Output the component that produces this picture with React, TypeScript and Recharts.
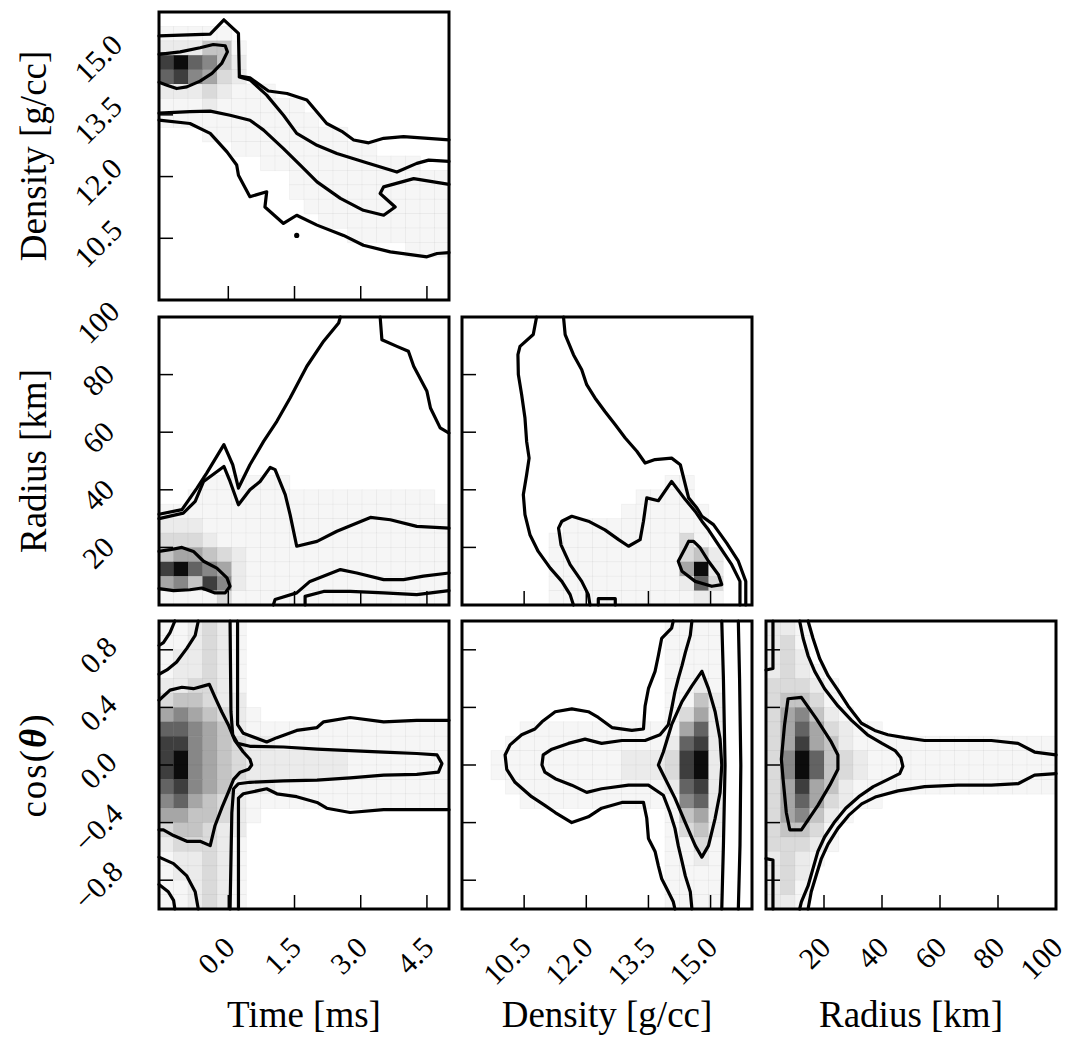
import React from 'react'
import { ScatterChart, Scatter, XAxis, YAxis } from 'recharts'

type Pt = [number, number]

const FONT = '"Liberation Serif", "Times New Roman", serif'

// plot boxes of the 3x3 corner layout (lower triangle only)
const PLOT_W = 290
const PLOT_H = 288
const COL_X = [159, 462, 766]
const ROW_Y = [12, 317, 621]
const AXIS_SIZE = 1
const MARGIN = { top: 40, right: 30, bottom: 120 - AXIS_SIZE, left: 165 - AXIS_SIZE }
const TICK_LEN = 14
const TICK_FONT = 30
const BINS = 20

const TIME_DOMAIN: Pt = [-1.57, 5.0]
const DENSITY_DOMAIN: Pt = [9, 16]
const RADIUS_DOMAIN: Pt = [0, 100]
const COS_DOMAIN: Pt = [-1, 1]

const TIME_TICKS = [0, 1.5, 3, 4.5]
const DENSITY_TICKS = [10.5, 12, 13.5, 15]
const RADIUS_TICKS = [20, 40, 60, 80, 100]
const COS_TICKS = [-0.8, -0.4, 0, 0.4, 0.8]

// grey levels of the 2d histograms, 0 = empty bin
const SHADES = ['#ffffff', '#f6f6f6', '#ebebeb', '#dadada', '#c4c4c4', '#a6a6a6', '#878787', '#636363', '#3e3e3e', '#0c0c0c']

// histogram rows, top row first, one digit per bin (left to right)
const GRID_TIME_DENSITY = [
  '00000000000000000000',
  '11111000000000000000',
  '22244100000000000000',
  '89764200000000000000',
  '78653200000000000000',
  '22232111000000000000',
  '11121111110000000000',
  '11111111111000000000',
  '00011111111110000000',
  '00000111111111100000',
  '00000001111111111100',
  '00000000011111111111',
  '00000000011111111111',
  '00000000001111111111',
  '00000000000111111111',
  '00000000000001111111',
  '00000000000000000111',
  '00000000000000000000',
  '00000000000000000000',
  '00000000000000000000',
]

const GRID_TIME_RADIUS = [
  '00000000000000000000',
  '00000000000000000000',
  '00000000000000000000',
  '00000000000000000000',
  '00000000000000000000',
  '00000000000000000000',
  '00000000000000000000',
  '00000000000000000000',
  '00000000000000000000',
  '00000000000000000000',
  '00000000000000000000',
  '00011111100000000000',
  '00111111111111111110',
  '11111111111111111111',
  '22211111111111111111',
  '33321111111111111111',
  '45543211111111111111',
  '89765211111111111111',
  '56486211111111111111',
  '11113111111111111111',
]

const GRID_DENSITY_RADIUS = [
  '00000000000000000000',
  '00000000000000000000',
  '00000000000000000000',
  '00000000000000000000',
  '00000000000000000000',
  '00000000000000000000',
  '00000000000000000000',
  '00000000000000000000',
  '00000000000000000000',
  '00000000000000000000',
  '00000000000000000000',
  '00000000000000110000',
  '00000000000011110000',
  '00000000000111111000',
  '00000001111111111000',
  '00000011111111131000',
  '00000011111111134200',
  '00000011111111159200',
  '00000011111111127300',
  '00000011111111112100',
]

const GRID_TIME_COS = [
  '11232100000000000000',
  '11232100000000000000',
  '12232100000000000000',
  '12232100000000000000',
  '22332100000000000000',
  '34432200000000000000',
  '56543210000000000000',
  '77654211111111111111',
  '88654322111111111111',
  '89654322222221111111',
  '89654322222221111111',
  '78654222111111111111',
  '67543211111111111111',
  '55443210000000000000',
  '34432200000000000000',
  '23332100000000000000',
  '12232100000000000000',
  '12232100000000000000',
  '11232100000000000000',
  '11232100000000000000',
]

const GRID_DENSITY_COS = [
  '00000000000000111100',
  '00000000000000111100',
  '00000000000000111100',
  '00000000000000111100',
  '00000000000000112100',
  '00000000000000114200',
  '00000000000000135200',
  '00001111111111157200',
  '00011111111111278200',
  '00111111111222389200',
  '00111111111222389200',
  '00011111111111278200',
  '00001111111111167200',
  '00000000000000145200',
  '00000000000000134200',
  '00000000000000113100',
  '00000000000000112100',
  '00000000000000111100',
  '00000000000000111100',
  '00000000000000111100',
]

const GRID_RADIUS_COS = [
  '22100000000000000000',
  '23100000000000000000',
  '23200000000000000000',
  '23210000000000000000',
  '33321000000000000000',
  '34431000000000000000',
  '35642100000000000000',
  '35753211000000000000',
  '35854211111111111111',
  '36974321111111111111',
  '36974321111111111111',
  '35854211111111111111',
  '35753211000000000000',
  '35642100000000000000',
  '34431000000000000000',
  '33321000000000000000',
  '23210000000000000000',
  '23200000000000000000',
  '23100000000000000000',
  '22100000000000000000',
]

// contour lines, [x, y] in data units
const CONTOURS_TIME_DENSITY: Pt[][] = [
  [[-1.57, 15.42], [-0.41, 15.46], [-0.1, 15.81], [0.23, 15.48], [0.25, 14.44], [0.49, 14.4], [0.91, 14.08], [1.33, 14.02], [1.78, 13.86], [2.23, 13.29], [2.57, 13.1], [2.84, 12.89], [3.18, 12.82], [3.52, 12.93], [3.97, 12.97], [5.0, 12.89]],
  [[0.25, 14.42], [0.49, 14.35], [0.87, 13.98], [1.25, 13.49], [1.55, 13.05], [2.01, 12.76], [2.46, 12.56], [3.06, 12.36], [3.82, 12.11], [4.27, 12.32], [4.54, 12.4], [5.0, 12.37]],
  [[-1.57, 13.54], [-0.87, 13.58], [-0.41, 13.59], [0.04, 13.49], [0.49, 13.37], [0.8, 13.13], [1.25, 12.68], [1.63, 12.28], [2.01, 11.87], [2.54, 11.47], [3.06, 11.18], [3.52, 11.06], [3.78, 11.26], [3.44, 11.59], [3.52, 11.75], [4.2, 11.95], [5.0, 11.81]],
  [[-1.57, 13.37], [-0.87, 13.29], [-0.41, 13.05], [-0.03, 12.6], [0.19, 12.28], [0.23, 12.03], [0.49, 11.51], [0.87, 11.63], [0.83, 11.26], [1.25, 10.86], [1.55, 11.06], [2.01, 10.82], [2.61, 10.57], [3.06, 10.33], [3.67, 10.17], [4.5, 10.05], [4.73, 10.13], [5.0, 10.15]],
  [[-1.57, 14.97], [-1.09, 15.03], [-0.64, 15.13], [-0.34, 15.21], [-0.07, 15.18], [-0.02, 15.03], [-0.15, 14.75], [-0.37, 14.51], [-0.64, 14.32], [-0.94, 14.18], [-1.17, 14.14], [-1.39, 14.22], [-1.57, 14.29]],
]
const DOTS_TIME_DENSITY: Pt[] = [[1.55, 10.57]]

const CONTOURS_TIME_RADIUS: Pt[][] = [
  [[-1.57, 31.5], [-1.05, 33.1], [-0.71, 40.6], [-0.49, 45.8], [-0.1, 55.7], [0.1, 48.7], [0.23, 40.6], [0.49, 48.7], [0.8, 56.8], [1.1, 63.8], [1.4, 71.9], [1.78, 82.9], [2.16, 91.6], [2.5, 97.9], [2.54, 100]],
  [[-1.57, 30.0], [-1.02, 31.9], [-0.75, 36.0], [-0.56, 42.9], [-0.1, 48.1], [0.04, 42.9], [0.23, 34.8], [0.49, 40.0], [0.72, 42.9], [0.95, 47.8], [1.06, 47.0], [1.29, 38.3], [1.4, 31.4], [1.55, 20.4], [2.01, 22.1], [2.46, 25.6], [3.22, 30.4], [3.67, 29.6], [4.27, 27.3], [5.0, 26.7]],
  [[3.44, 100], [3.48, 92.1], [3.82, 89.8], [4.08, 88.1], [4.2, 82.9], [4.5, 74.2], [4.58, 68.4], [4.8, 61.5], [5.0, 59.7]],
  [[-1.57, 18.6], [-1.32, 19.2], [-1.05, 20.0], [-0.79, 18.6], [-0.56, 15.2], [-0.26, 12.8], [-0.03, 9.4], [0.04, 6.5], [-0.07, 4.2], [-0.3, 4.2], [-0.6, 5.9], [-0.87, 5.3], [-1.24, 5.0], [-1.57, 5.7]],
  [[1.02, 0], [1.06, 1.9], [1.55, 4.2], [1.85, 8.2], [2.54, 12.3], [2.91, 11.1], [3.52, 8.8], [3.97, 8.8], [4.42, 10.0], [5.0, 11.1]],
  [[1.74, 0], [1.74, 3.0], [2.16, 4.7], [2.76, 4.7], [3.52, 4.2], [4.27, 3.6], [5.0, 5.0]],
]

const CONTOURS_DENSITY_RADIUS: Pt[][] = [
  [[10.8, 100], [10.72, 93.9], [10.4, 89.8], [10.35, 86.9], [10.36, 80.0], [10.44, 73.0], [10.52, 64.9], [10.56, 56.8], [10.62, 51.0], [10.56, 45.2], [10.48, 38.3], [10.52, 31.4], [10.64, 24.4], [10.84, 18.6], [11.13, 12.8], [11.41, 8.2], [11.61, 3.6], [11.69, 0]],
  [[11.45, 100], [11.49, 93.9], [11.69, 86.9], [11.89, 81.7], [12.01, 76.5], [12.21, 71.9], [12.45, 67.2], [12.7, 62.6], [12.94, 58.0], [13.22, 53.4], [13.42, 49.3], [13.66, 50.5], [14.06, 51.0], [14.27, 48.7], [14.35, 44.1], [14.47, 37.2], [14.67, 33.7], [14.79, 30.8], [15.07, 27.9], [15.39, 21.5], [15.67, 15.2], [15.85, 8.2], [15.85, 0]],
  [[12.09, 0], [12.05, 3.6], [11.89, 8.2], [11.61, 14.0], [11.39, 20.9], [11.33, 26.7], [11.41, 29.1], [11.65, 30.8], [12.05, 29.1], [12.45, 26.1], [12.78, 22.7], [13.02, 20.4], [13.3, 22.7], [13.38, 29.1], [13.46, 37.2], [13.74, 36.2], [14.06, 42.9], [14.39, 36.6], [14.63, 32.5], [14.79, 29.1], [14.95, 26.1], [15.19, 20.9], [15.51, 14.0], [15.71, 8.2], [15.71, 0]],
  [[14.47, 22.1], [14.39, 19.8], [14.22, 15.2], [14.31, 11.7], [14.63, 8.2], [15.03, 6.5], [15.27, 7.1], [15.19, 10.5], [14.95, 15.2], [14.75, 19.8], [14.59, 22.1], [14.47, 22.1]],
  [[12.29, 0], [12.29, 2.2], [12.7, 2.2], [12.7, 0]],
]

const CONTOURS_TIME_COS: Pt[][] = [
  [[-1.57, 0.45], [-1.32, 0.52], [-1.05, 0.54], [-0.79, 0.53], [-0.43, 0.56], [-0.3, 0.47], [-0.15, 0.37], [0.0, 0.28], [0.15, 0.17], [0.34, 0.09], [0.49, 0.04], [0.53, 0.0], [0.46, -0.03], [0.27, -0.05], [0.12, -0.1], [0.0, -0.19], [-0.15, -0.3], [-0.3, -0.42], [-0.41, -0.56], [-0.64, -0.53], [-0.94, -0.53], [-1.24, -0.49], [-1.47, -0.45], [-1.57, -0.45]],
  [[0.04, 1], [0.06, 0.37], [0.1, 0.21], [0.21, 0.15], [0.49, 0.13], [1.25, 0.125], [2.01, 0.11], [2.76, 0.1], [3.52, 0.09], [4.27, 0.08], [4.73, 0.07], [4.84, 0.01], [4.76, -0.05], [4.27, -0.065], [3.52, -0.07], [2.76, -0.09], [2.01, -0.105], [1.25, -0.11], [0.49, -0.12], [0.23, -0.13], [0.12, -0.165], [0.08, -0.33], [0.04, -1]],
  [[0.21, 1], [0.21, 0.28], [0.34, 0.22], [0.87, 0.16], [1.1, 0.19], [1.55, 0.24], [2.01, 0.26], [2.16, 0.3], [2.76, 0.33], [3.52, 0.3], [4.27, 0.31], [5.0, 0.31]],
  [[0.23, -1], [0.23, -0.23], [0.34, -0.2], [0.87, -0.165], [1.1, -0.2], [1.55, -0.22], [2.01, -0.26], [2.23, -0.3], [2.76, -0.33], [3.52, -0.31], [5.0, -0.31]],
  [[-1.21, 1], [-1.32, 0.92], [-1.47, 0.85], [-1.57, 0.83]],
  [[-0.68, 1], [-0.75, 0.9], [-0.94, 0.81], [-1.17, 0.715], [-1.39, 0.66], [-1.57, 0.63]],
  [[-1.57, -0.64], [-1.24, -0.685], [-0.94, -0.77], [-0.75, -0.88], [-0.68, -1]],
  [[-1.57, -0.83], [-1.36, -0.88], [-1.24, -0.94], [-1.21, -1]],
]

const CONTOURS_DENSITY_COS: Pt[][] = [
  [[14.1, 1], [14.06, 0.95], [13.82, 0.88], [13.74, 0.76], [13.66, 0.65], [13.5, 0.53], [13.42, 0.41], [13.38, 0.25], [13.1, 0.24], [12.62, 0.26], [12.29, 0.33], [12.05, 0.37], [11.65, 0.39], [11.25, 0.37], [10.93, 0.3], [10.76, 0.25], [10.44, 0.21], [10.16, 0.14], [10.04, 0.07], [10.08, -0.03], [10.28, -0.12], [10.68, -0.22], [11.0, -0.28], [11.25, -0.33], [11.65, -0.4], [12.05, -0.36], [12.37, -0.3], [12.86, -0.26], [13.38, -0.26], [13.46, -0.37], [13.5, -0.51], [13.66, -0.6], [13.74, -0.7], [13.82, -0.79], [13.98, -0.88], [14.1, -0.95], [14.14, -1]],
  [[14.55, 1], [14.51, 0.9], [14.39, 0.78], [14.31, 0.69], [14.22, 0.6], [14.14, 0.51], [14.06, 0.39], [13.98, 0.28], [13.78, 0.21], [13.42, 0.17], [12.86, 0.17], [12.37, 0.15], [11.97, 0.18], [11.57, 0.15], [11.17, 0.11], [10.96, 0.07], [10.93, 0.0], [11.0, -0.05], [11.25, -0.095], [11.65, -0.14], [12.01, -0.19], [12.37, -0.165], [13.02, -0.14], [13.5, -0.14], [13.86, -0.21], [14.02, -0.33], [14.14, -0.44], [14.22, -0.56], [14.31, -0.67], [14.39, -0.77], [14.51, -0.88], [14.55, -1]],
  [[14.79, 0.65], [14.55, 0.55], [14.31, 0.44], [14.06, 0.28], [13.86, 0.09], [13.74, 0.0], [13.86, -0.07], [14.14, -0.23], [14.39, -0.4], [14.63, -0.56], [14.79, -0.64], [14.95, -0.56], [15.11, -0.37], [15.23, -0.19], [15.27, 0.0], [15.23, 0.18], [15.11, 0.37], [14.95, 0.53], [14.79, 0.65]],
  [[15.27, 1], [15.31, 0.6], [15.35, 0.0], [15.31, -0.56], [15.27, -1]],
  [[15.67, 1], [15.7, 0.6], [15.73, 0.0], [15.71, -0.56], [15.67, -1]],
]

const CONTOURS_RADIUS_COS: Pt[][] = [
  [[11.6, 1], [12.8, 0.88], [14.5, 0.76], [16.8, 0.65], [20.2, 0.53], [24.8, 0.41], [29.5, 0.31], [35.0, 0.21], [40.0, 0.15], [44.5, 0.1], [46.5, 0.05], [47.2, -0.01], [46.1, -0.06], [42.1, -0.1], [37.0, -0.15], [32.0, -0.22], [27.5, -0.3], [23.5, -0.4], [20.2, -0.5], [17.9, -0.6], [16.2, -0.72], [14.5, -0.84], [12.2, -0.95], [11.6, -1]],
  [[14.5, 1], [16.2, 0.88], [18.5, 0.74], [21.4, 0.62], [24.8, 0.52], [28.3, 0.41], [32.9, 0.29], [37.5, 0.24], [42.0, 0.21], [47.8, 0.19], [54.7, 0.17], [66.2, 0.17], [77.7, 0.17], [86.9, 0.15], [92.6, 0.09], [100, 0.07]],
  [[100, -0.06], [92.6, -0.07], [86.9, -0.13], [77.7, -0.14], [66.2, -0.14], [54.7, -0.15], [45.5, -0.18], [38.0, -0.22], [33.0, -0.27], [28.5, -0.35], [24.8, -0.44], [21.4, -0.55], [19.1, -0.65], [17.4, -0.76], [15.6, -0.88], [14.5, -1]],
  [[7.6, 0.46], [12.2, 0.47], [17.4, 0.32], [22.5, 0.16], [24.8, 0.07], [24.8, -0.03], [22.0, -0.14], [17.9, -0.28], [12.2, -0.45], [8.2, -0.45], [7.0, -0.33], [5.9, -0.1], [5.3, 0.04], [6.4, 0.28], [7.6, 0.46]],
  [[2.4, 1], [2.4, 0.67], [0, 0.66]],
  [[0, -0.65], [2.4, -0.66], [2.4, -1]],
]

const fmt1 = (v: number) => (v < 0 ? '\u2212' : '') + Math.abs(v).toFixed(1)
const fmt0 = (v: number) => String(v)

const AXES: Record<string, { domain: Pt; ticks: number[]; fmt: (v: number) => string }> = {
  time: { domain: TIME_DOMAIN, ticks: TIME_TICKS, fmt: fmt1 },
  density: { domain: DENSITY_DOMAIN, ticks: DENSITY_TICKS, fmt: fmt1 },
  radius: { domain: RADIUS_DOMAIN, ticks: RADIUS_TICKS, fmt: fmt0 },
  cos: { domain: COS_DOMAIN, ticks: COS_TICKS, fmt: fmt1 },
}

const PANELS = [
  { x: 'time', y: 'density', col: 0, row: 0, grid: GRID_TIME_DENSITY, contours: CONTOURS_TIME_DENSITY, dots: DOTS_TIME_DENSITY },
  { x: 'time', y: 'radius', col: 0, row: 1, grid: GRID_TIME_RADIUS, contours: CONTOURS_TIME_RADIUS, dots: [] as Pt[] },
  { x: 'density', y: 'radius', col: 1, row: 1, grid: GRID_DENSITY_RADIUS, contours: CONTOURS_DENSITY_RADIUS, dots: [] as Pt[] },
  { x: 'time', y: 'cos', col: 0, row: 2, grid: GRID_TIME_COS, contours: CONTOURS_TIME_COS, dots: [] as Pt[] },
  { x: 'density', y: 'cos', col: 1, row: 2, grid: GRID_DENSITY_COS, contours: CONTOURS_DENSITY_COS, dots: [] as Pt[] },
  { x: 'radius', y: 'cos', col: 2, row: 2, grid: GRID_RADIUS_COS, contours: CONTOURS_RADIUS_COS, dots: [] as Pt[] },
]

const toPts = (arr: Pt[]) => arr.map(([x, y]) => ({ x, y }))

// bin centres of a histogram grid
function gridCells(grid: string[], xd: Pt, yd: Pt) {
  const bw = (xd[1] - xd[0]) / BINS
  const bh = (yd[1] - yd[0]) / BINS
  const out: { x: number; y: number; lv: number }[] = []
  grid.forEach((line, r) => {
    const row = line.padEnd(BINS, '0')
    for (let c = 0; c < BINS; c++) {
      const lv = Number(row[c])
      if (lv > 0) out.push({ x: xd[0] + (c + 0.5) * bw, y: yd[1] - (r + 0.5) * bh, lv })
    }
  })
  return out
}

const CELL_W = PLOT_W / BINS
const CELL_H = PLOT_H / BINS

const CellShape = (p: any) => (
  <rect
    x={p.cx - CELL_W / 2}
    y={p.cy - CELL_H / 2}
    width={CELL_W + 0.3}
    height={CELL_H + 0.3}
    fill={SHADES[p.payload.lv]}
    stroke="#000"
    strokeOpacity={0.04}
    strokeWidth={0.8}
  />
)

const NoDot = () => <g />
const SmallDot = (p: any) => <circle cx={p.cx} cy={p.cy} r={2.6} fill="#000" />

const CONTOUR_LINE = { stroke: '#000', strokeWidth: 3.2, strokeLinejoin: 'round', strokeLinecap: 'round', fill: 'none' }
const FRAME_LINE = { stroke: '#000', strokeWidth: 3, strokeLinejoin: 'miter', strokeLinecap: 'square', fill: 'none' }

function XTick(props: any) {
  const { x, y, payload, fmt, show } = props
  const px = x + 1
  const py = y + 33
  return (
    <g>
      <line x1={x} y1={y} x2={x} y2={y - TICK_LEN} stroke="#000" strokeWidth={1.5} />
      {show && (
        <text
          x={px}
          y={py}
          transform={`rotate(-45 ${px} ${py})`}
          textAnchor="end"
          dominantBaseline="central"
          fontFamily={FONT}
          fontSize={TICK_FONT}
          fill="#000"
        >
          {fmt(payload.value)}
        </text>
      )}
    </g>
  )
}

function YTick(props: any) {
  const { x, y, payload, fmt, show } = props
  const px = x - 61
  const py = y + 5
  return (
    <g>
      <line x1={x} y1={y} x2={x + TICK_LEN} y2={y} stroke="#000" strokeWidth={1.5} />
      {show && (
        <text
          x={px}
          y={py}
          transform={`rotate(-45 ${px} ${py})`}
          textAnchor="middle"
          dominantBaseline="central"
          fontFamily={FONT}
          fontSize={TICK_FONT}
          fill="#000"
        >
          {fmt(payload.value)}
        </text>
      )}
    </g>
  )
}

function Panel({ spec }: { spec: (typeof PANELS)[number] }) {
  const xa = AXES[spec.x]
  const ya = AXES[spec.y]
  const cells = gridCells(spec.grid, xa.domain, ya.domain)
  const frame = toPts([
    [xa.domain[0], ya.domain[0]],
    [xa.domain[0], ya.domain[1]],
    [xa.domain[1], ya.domain[1]],
    [xa.domain[1], ya.domain[0]],
    [xa.domain[0], ya.domain[0]],
  ])
  const showX = spec.row === 2
  const showY = spec.col === 0
  return (
    <div
      style={{
        position: 'absolute',
        left: COL_X[spec.col] - MARGIN.left - AXIS_SIZE,
        top: ROW_Y[spec.row] - MARGIN.top,
      }}
    >
      <ScatterChart
        width={MARGIN.left + AXIS_SIZE + PLOT_W + MARGIN.right}
        height={MARGIN.top + PLOT_H + AXIS_SIZE + MARGIN.bottom}
        margin={MARGIN}
      >
        <XAxis
          type="number"
          dataKey="x"
          domain={xa.domain}
          ticks={xa.ticks}
          interval={0}
          height={AXIS_SIZE}
          tickSize={0}
          tickMargin={0}
          axisLine={false}
          tickLine={false}
          tick={(p: any) => <XTick {...p} fmt={xa.fmt} show={showX} />}
        />
        <YAxis
          type="number"
          dataKey="y"
          domain={ya.domain}
          ticks={ya.ticks}
          interval={0}
          width={AXIS_SIZE}
          tickSize={0}
          tickMargin={0}
          axisLine={false}
          tickLine={false}
          tick={(p: any) => <YTick {...p} fmt={ya.fmt} show={showY} />}
        />
        <Scatter data={cells} shape={CellShape} isAnimationActive={false} />
        {spec.contours.map((c, i) => (
          <Scatter
            key={i}
            data={toPts(c)}
            line={CONTOUR_LINE}
            lineType="joint"
            shape={NoDot}
            fill="none"
            stroke="#000"
            strokeWidth={3.2}
            isAnimationActive={false}
          />
        ))}
        {spec.dots.length > 0 && (
          <Scatter data={toPts(spec.dots)} shape={SmallDot} isAnimationActive={false} />
        )}
        <Scatter
          data={frame}
          line={FRAME_LINE}
          lineType="joint"
          shape={NoDot}
          fill="none"
          stroke="#000"
          strokeWidth={3}
          isAnimationActive={false}
        />
      </ScatterChart>
    </div>
  )
}

const titleStyle: React.CSSProperties = {
  position: 'absolute',
  fontFamily: FONT,
  fontSize: 37,
  color: '#000',
  whiteSpace: 'nowrap',
  lineHeight: 1,
}

const xTitle = (text: React.ReactNode, cx: number) => (
  <div style={{ ...titleStyle, left: cx, top: 1014, transform: 'translate(-50%, -50%)' }}>{text}</div>
)
const yTitle = (text: React.ReactNode, cy: number) => (
  <div style={{ ...titleStyle, left: 33, top: cy, transform: 'translate(-50%, -50%) rotate(-90deg)' }}>{text}</div>
)

export default function App() {
  return (
    <div style={{ position: 'absolute', left: 0, top: 0, width: 1079, height: 1053, background: '#fff', overflow: 'hidden' }}>
      {PANELS.map((p, i) => (
        <Panel key={i} spec={p} />
      ))}
      {yTitle('Density [g/cc]', 156)}
      {yTitle('Radius [km]', 461)}
      {yTitle(
        <span style={{ letterSpacing: 2 }}>
          cos(<b><i>θ</i></b>)
        </span>,
        765,
      )}
      {xTitle('Time [ms]', 304)}
      {xTitle('Density [g/cc]', 607)}
      {xTitle('Radius [km]', 911)}
    </div>
  )
}
